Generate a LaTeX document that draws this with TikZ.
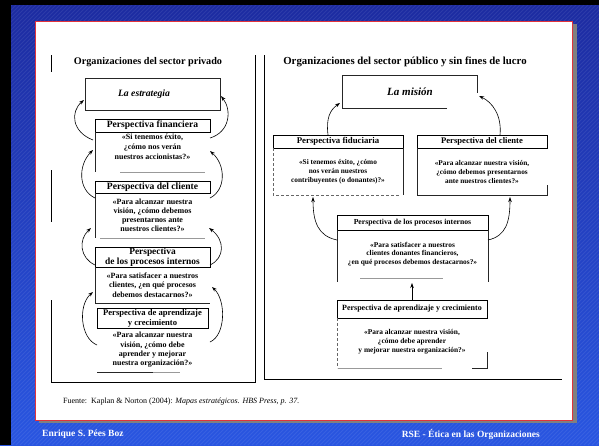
\documentclass[tikz,border=0pt]{standalone}
\usepackage{fontspec}
\setmainfont{Liberation Serif}
\usetikzlibrary{arrows.meta}
\definecolor{bgtop}{RGB}{28,42,160}
\definecolor{bgbot}{RGB}{40,85,225}
\definecolor{redb}{RGB}{225,50,60}
\definecolor{shad}{RGB}{128,128,128}
\begin{document}
\begin{tikzpicture}[x=1pt,y=-1pt,
  fr/.style={line width=0.9pt, black},
  ln/.style={line width=0.7pt, black!85},
  gl/.style={line width=0.7pt, black!40},
  dl/.style={line width=0.7pt, black!60, dash pattern=on 3pt off 2pt},
  arr/.style={line width=0.6pt, -{Stealth[length=5pt,width=3.5pt]}},
  ttl/.style={font=\bfseries\fontsize{10.2}{11}\selectfont, inner sep=0pt},
  hbox/.style={draw, line width=0.7pt, font=\bfseries\fontsize{9.6}{10}\selectfont, align=center, inner sep=0pt},
  bdy/.style={font=\bfseries\fontsize{8}{10}\selectfont, align=center, inner sep=0pt},
  rbdy/.style={font=\bfseries\fontsize{7.3}{9}\selectfont, align=center, inner sep=0pt},
  foot/.style={font=\bfseries\fontsize{9.5}{11}\selectfont, text=white, inner sep=0pt},
  main/.style={font=\bfseries\itshape\fontsize{9.7}{11}\selectfont, inner sep=0pt}
]
\path[use as bounding box] (0,0) rectangle (599,445);
% background
\shade[top color=bgtop, bottom color=bgbot] (0,0) rectangle (599,445);
\begin{scope}
\clip (0,0) rectangle (599,445);
\foreach \i in {-460,-456,...,600}
  \draw[white, opacity=0.08, line width=0.8pt] (\i,445) -- (\i+445,0);
\end{scope}
\fill[black] (0,0) rectangle (599,5);
\fill[black] (0,0) rectangle (11,445);
% panel
\fill[shad] (39,24) rectangle (577,423);
\draw[redb, line width=1pt, fill=white] (35,21) rectangle (572,420);

% ---------- left figure ----------
\draw[fr] (51,55) -- (51,72);
\draw[fr] (51,170) -- (51,222);
\draw[fr] (51,300) -- (51,382) -- (255,382) -- (255,55);
\node[ttl] (ttlL) at (148,62) {Organizaciones del sector privado};
\draw[ln] (85,78) rectangle (220,110);
\node[main] (est) at (144,94) {La estrategia};

\node[hbox, minimum width=115pt, minimum height=13pt] (fin) at (152.5,125.5) {Perspectiva financiera};
\node[bdy] (finb) at (152.5,147) {«Si tenemos éxito,\\¿cómo nos verán\\nuestros accionistas?»};
\draw[ln] (95,132) -- (95,172);
\draw[gl] (120,172) -- (205,172);

\node[hbox, minimum width=115pt, minimum height=12pt] (cli) at (152.5,187) {Perspectiva del cliente};
\node[bdy, font=\bfseries\fontsize{8}{9}\selectfont] (clib) at (152.5,215.5) {«Para alcanzar nuestra\\visión, ¿cómo debemos\\presentarnos ante\\nuestros clientes?»};
\draw[ln] (95,193) -- (95,238);
\draw[gl] (100,238) -- (205,238);

\node[hbox, minimum width=115pt, minimum height=20pt, font=\bfseries\fontsize{9.4}{10}\selectfont] (pro) at (152.5,257) {Perspectiva\\de los procesos internos};
\node[bdy, font=\bfseries\fontsize{8}{9.5}\selectfont] (prob) at (152.5,285) {«Para satisfacer a nuestros\\clientes, ¿en qué procesos\\debemos destacarnos?»};
\draw[ln] (95,267) -- (95,303) -- (210,303);

\node[hbox, minimum width=111pt, minimum height=20pt, font=\bfseries\fontsize{8.6}{10}\selectfont] (apr) at (152.5,318) {Perspectiva de aprendizaje\\y crecimiento};
\node[bdy, font=\bfseries\fontsize{8}{9.3}\selectfont] (aprb) at (152.5,350) {«Para alcanzar nuestra\\visión, ¿cómo debe\\aprender y mejorar\\nuestra organización?»};
\draw[ln] (97,372) -- (153,372);
\draw[gl] (153,372) -- (180,372);

% left arrows
\coordinate (a1ls) at (93,140);  \coordinate (a1le) at (84,100);
\coordinate (a1rs) at (210,138); \coordinate (a1re) at (221,96);
\coordinate (a2ls) at (95,198);  \coordinate (a2le) at (93,150);
\coordinate (a2rs) at (210,198); \coordinate (a2re) at (210,151);
\coordinate (a3ls) at (95,265);  \coordinate (a3le) at (91,228);
\coordinate (a3rs) at (210,265); \coordinate (a3re) at (209,228);
\coordinate (a4ls) at (97,345);  \coordinate (a4le) at (93,292);
\coordinate (a4rs) at (210,342); \coordinate (a4re) at (212,287);
\draw[arr] (a1ls) .. controls (72,132) and (70,112) .. (a1le);
\draw[arr] (a1rs) .. controls (230,132) and (232,110) .. (a1re);
\draw[arr] (a2ls) .. controls (78,190) and (78,165) .. (a2le);
\draw[arr] (a2rs) .. controls (226,190) and (226,165) .. (a2re);
\draw[arr] (a3ls) .. controls (80,258) and (78,240) .. (a3le);
\draw[arr] (a3rs) .. controls (225,258) and (225,240) .. (a3re);
\draw[arr] (a4ls) .. controls (80,338) and (78,305) .. (a4le);
\draw[arr] (a4rs) .. controls (226,335) and (226,300) .. (a4re);

% ---------- right figure ----------
\draw[fr] (264,55) -- (264,379) -- (562,379);
\node[ttl, font=\bfseries\fontsize{10.8}{12}\selectfont] (ttlR) at (405,62) {Organizaciones del sector público y sin fines de lucro};
\draw[ln] (447,108) -- (342,108) -- (342,75) -- (477,75) -- (477,93);
\node[main, font=\bfseries\itshape\fontsize{11}{12}\selectfont] (mis) at (410,92) {La misión};

\node[hbox, minimum width=130pt, minimum height=13pt, font=\bfseries\fontsize{8.8}{9}\selectfont] (fid) at (338,141.5) {Perspectiva fiduciaria};
\node[rbdy] (fidb) at (338,172) {«Si tenemos éxito, ¿cómo\\nos verán nuestros\\contribuyentes (o donantes)?»};
\draw[dl] (273,148) -- (273,195) -- (400,195);
\draw[ln] (403,148) -- (403,195);

\node[hbox, minimum width=130pt, minimum height=13pt, font=\bfseries\fontsize{8.6}{9}\selectfont] (rcl) at (482,141.5) {Perspectiva del cliente};
\node[rbdy] (rclb) at (482,172) {«Para alcanzar nuestra visión,\\¿cómo debemos presentarnos\\ante nuestros clientes?»};
\draw[ln] (417,148) -- (417,195) -- (547,195) -- (547,185);

\node[hbox, minimum width=151pt, minimum height=15pt, font=\bfseries\fontsize{7.7}{9}\selectfont] (rpr) at (412.5,222.5) {Perspectiva de los procesos internos};
\node[rbdy, font=\bfseries\fontsize{7.4}{8.8}\selectfont] (rprb) at (412.5,254) {«Para satisfacer a nuestros\\clientes donantes financieros,\\¿en qué procesos debemos destacarnos?»};
\draw[ln] (337,230) -- (337,282);
\draw[ln] (488,230) -- (488,282);
\draw[gl] (360,278) -- (443,278);

\node[hbox, minimum width=150pt, minimum height=18pt, font=\bfseries\fontsize{8}{9}\selectfont] (rap) at (412,309) {Perspectiva de aprendizaje y crecimiento};
\node[rbdy, font=\bfseries\fontsize{7.4}{9}\selectfont] (rapb) at (412,342) {«Para alcanzar nuestra visión,\\¿cómo debe aprender\\y mejorar nuestra organización?»};
\draw[dl] (337,318) -- (337,368);
\draw[gl] (338,368) -- (442,368);
\draw[ln] (472,368) -- (487,368) -- (487,352);

% right arrows
\coordinate (mls) at (328,135); \coordinate (mle) at (340,103);
\coordinate (mrs) at (500,135); \coordinate (mre) at (479,96);
\coordinate (pls) at (337,240); \coordinate (ple) at (313,197);
\coordinate (prs) at (488,240); \coordinate (pre) at (510,197);
\draw[arr] (mls) .. controls (326,118) and (330,110) .. (mle);
\draw[arr] (mrs) .. controls (502,115) and (492,102) .. (mre);
\draw[arr] (pls) .. controls (318,236) and (313,222) .. (ple);
\draw[arr] (prs) .. controls (506,236) and (510,222) .. (pre);
\draw[arr] (rap.north) -- (412,283);

% source and footer
\node[anchor=west, font=\fontsize{8}{9}\selectfont, inner sep=0pt] (src) at (63,402) {Fuente:\ \ Kaplan \& Norton (2004): \textit{Mapas estratégicos. HBS Press, p. 37.}};
\node[foot, anchor=west] (fl) at (42,434) {Enrique S. Pées Boz};
\node[foot, anchor=east] (fr) at (540,434) {RSE - Ética en las Organizaciones};
\end{tikzpicture}
\end{document}
